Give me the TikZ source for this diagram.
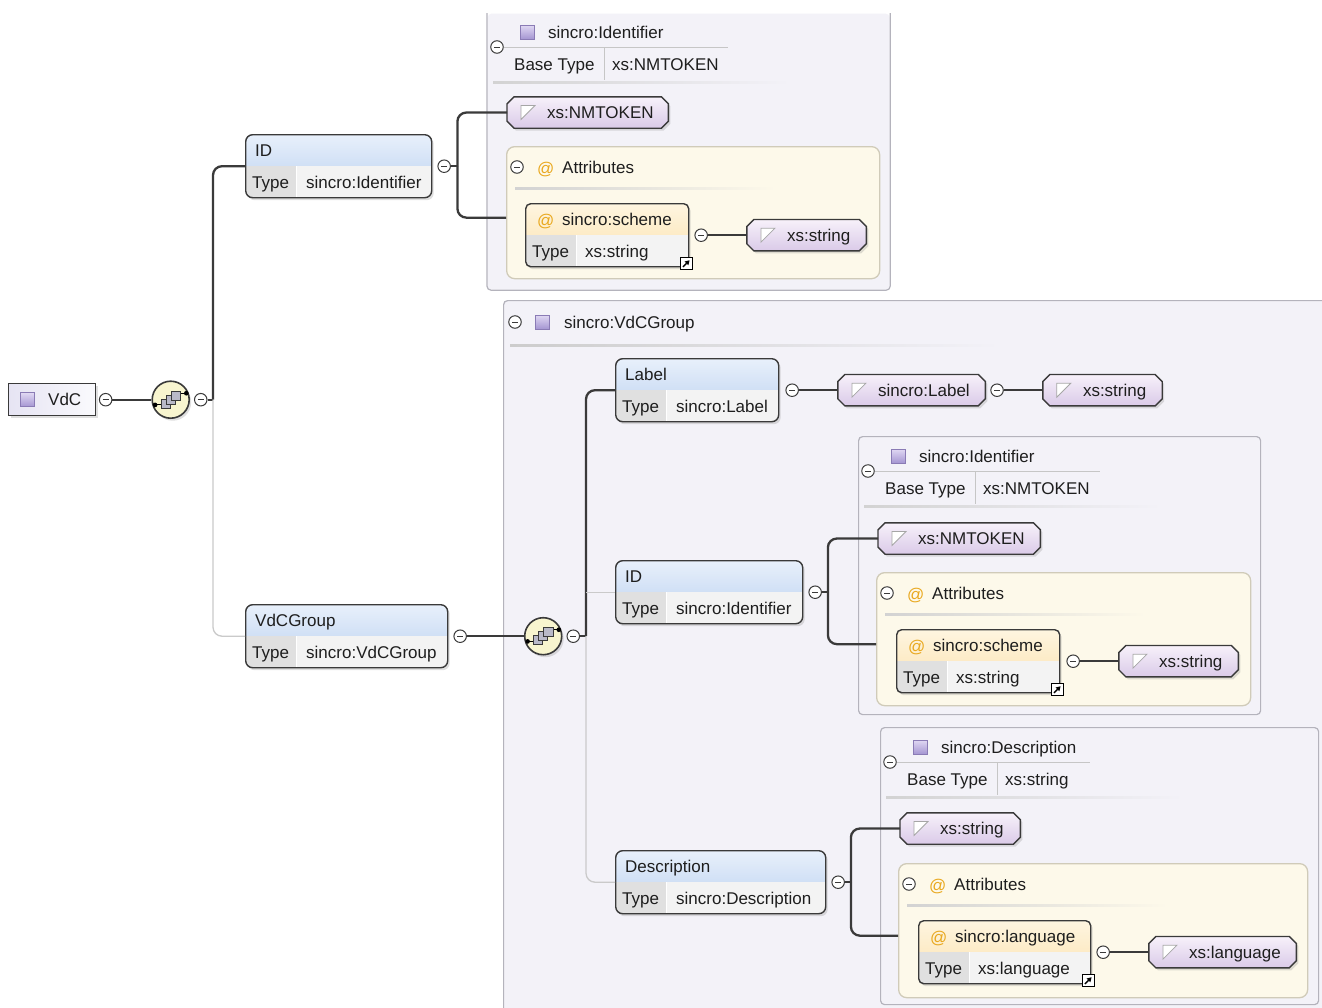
\documentclass[tikz,border=0pt]{standalone}
\usepackage{fontspec}
\setmainfont{Liberation Sans}
\usetikzlibrary{positioning,shadows,arrows.meta}

\definecolor{linedark}{HTML}{3A3A3A}
\definecolor{linelight}{HTML}{CACACA}
\definecolor{txtcol}{HTML}{1E1E1E}
\definecolor{panelfill}{HTML}{F3F2F8}
\definecolor{panelline}{HTML}{B4B3BC}
\definecolor{attrbg}{HTML}{FDF9EA}
\definecolor{attrline}{HTML}{D0CBB9}
\definecolor{elemtopA}{HTML}{E8F0FB}
\definecolor{elemtopB}{HTML}{B8CFEF}
\definecolor{attrtopA}{HTML}{FEF5E0}
\definecolor{attrtopB}{HTML}{FBE1AC}
\definecolor{cellgray}{HTML}{E0E0E0}
\definecolor{celllight}{HTML}{F3F3F3}
\definecolor{simpleA}{HTML}{F7F1FA}
\definecolor{simpleB}{HTML}{DACAE8}
\definecolor{seqfill}{HTML}{F8F5CF}
\definecolor{seqsq}{HTML}{B9B9C8}
\definecolor{rootA}{HTML}{E6E4F3}
\definecolor{rootB}{HTML}{FAFAFD}
\definecolor{iconA}{HTML}{E0D8F3}
\definecolor{iconB}{HTML}{A596D2}
\definecolor{iconline}{HTML}{8A7BB5}
\definecolor{atorange}{HTML}{E9A81E}

\tikzset{
         txt/.style = {inner sep=0pt, text height=13pt, text depth=1pt,
                       font=\fontsize{17}{20}\selectfont, text=txtcol},
        conn/.style = {draw=linedark, line width=2.3pt, rounded corners=9pt},
   connlight/.style = {draw=linelight, line width=1.3pt, rounded corners=9pt},
    headline/.style = {draw=gray!45, line width=1pt},
  softshadow/.style = {drop shadow={shadow xshift=2pt, shadow yshift=-2.5pt, opacity=.25}},
  card/.style 2 args = {draw=linedark, line width=1.4pt, inner sep=0pt,
                       minimum height=63pt, softshadow,
                       path picture={
                         \fill[sharp corners, top color=#1, bottom color=#2]
                           (path picture bounding box.north west) rectangle
                           (path picture bounding box.east);
                         \fill[sharp corners, cellgray] (path picture bounding box.west)
                           rectangle ([xshift=51pt]path picture bounding box.south west);
                         \fill[sharp corners, celllight]
                           ([xshift=51pt]path picture bounding box.south west)
                           rectangle (path picture bounding box.east);
                         \draw[sharp corners, white, line width=1.2pt]
                           ([xshift=51pt]path picture bounding box.west) --
                           ([xshift=51pt]path picture bounding box.south west);}},
        elem/.style = {card={elemtopA}{elemtopB}, rounded corners=7pt},   % <--- element
      attrib/.style = {card={attrtopA}{attrtopB}, rounded corners=5pt},   % <--- attribute
   simplebox/.style = {inner sep=0pt, minimum height=31pt},
 simpleshape/.style = {draw=linedark, line width=1.4pt,
                       top color=simpleA, bottom color=simpleB, softshadow},
        root/.style = {draw=linedark, line width=1.4pt, inner sep=0pt,
                       minimum width=87pt, minimum height=32pt,
                       left color=rootA, right color=rootB, softshadow},
         seq/.style = {circle, draw=linedark, line width=1.6pt, fill=seqfill,
                       minimum size=37pt, inner sep=0pt, softshadow},
       minus/.style = {circle, draw=linedark, line width=1pt, fill=white,
                       inner sep=0pt, minimum size=12.5pt,
                       path picture={\draw[line width=1pt]
                         ([xshift=-3pt]path picture bounding box.center) --
                         ([xshift=3pt]path picture bounding box.center);}},
      refbox/.style = {draw=black, fill=white, line width=.9pt, minimum size=12pt,
                       inner sep=0pt,
                       path picture={\draw[line width=1.5pt, -{Triangle[length=4.5pt, width=5pt]}]
                         ([shift={(-3.5pt,-3.5pt)}]path picture bounding box.center) --
                         ([shift={(3.2pt,3.2pt)}]path picture bounding box.center);}},
       panel/.style = {fill=panelfill, draw=panelline, line width=1.2pt,
                       rounded corners=4pt, inner sep=0pt},
    attrsbox/.style = {fill=attrbg, draw=attrline, line width=1.3pt,
                       rounded corners=8pt, inner sep=0pt},
}

% small icons
\newcommand\cticon[1]{\shadedraw[shift={#1}, top color=iconA, bottom color=iconB,
  draw=iconline, line width=.8pt] (-7,-7) rectangle (7,7);}
\newcommand\sticon[1]{\filldraw[shift={#1}, fill=white, draw=gray!70, line width=.8pt]
  (-7,-7) -- (7,-7) -- (-7,7) -- cycle;}
\newcommand\seqicon[1]{%
  \begin{scope}[shift={(#1.center)}, scale=1.3]
    \draw[line width=1.1pt] (-12,4) -- (-6,4) (6,-5) -- (12,-5);
    \fill (-12,4) circle (1.8pt) (12,-5) circle (1.8pt);
    \foreach \dx/\dy in {-4/3, 0/0, 4/-3}
      \filldraw[fill=seqsq, draw=linedark, line width=.9pt]
        (\dx-3.5,\dy-3.5) rectangle (\dx+3.5,\dy+3.5);
  \end{scope}}

% name, left, top, width, title, type
\newcommand\elembox[6]{%
  \node[elem, minimum width=#4, anchor=north west] (#1) at (#2,#3) {};
  \node[txt, anchor=west] (#1-nm) at ([xshift=10pt,yshift=-16pt]#1.north west) {#5};
  \node[txt, anchor=west] (#1-tl) at ([xshift=7pt,yshift=-48pt]#1.north west) {Type};
  \node[txt, anchor=west] (#1-ty) at ([xshift=61pt,yshift=-48pt]#1.north west) {#6};}
\newcommand\attrnode[6]{%
  \node[attrib, minimum width=#4, anchor=north west] (#1) at (#2,#3) {};
  \node[txt, text=atorange, anchor=west] (#1-at) at ([xshift=12pt,yshift=-17pt]#1.north west) {@};
  \node[txt, anchor=west] (#1-nm) at ([xshift=37pt,yshift=-16pt]#1.north west) {#5};
  \node[txt, anchor=west] (#1-tl) at ([xshift=7pt,yshift=-48pt]#1.north west) {Type};
  \node[txt, anchor=west] (#1-ty) at ([xshift=60pt,yshift=-48pt]#1.north west) {#6};
  \node[refbox] (#1-ref) at ([xshift=-3pt,yshift=4pt]#1.south east) {};}
% name, placement, width, text
\newcommand\stype[4]{%
  \node[simplebox, minimum width=#3, #2] (#1) {};
  \path[simpleshape] ([xshift=7pt]#1.north west) -- ([xshift=-7pt]#1.north east)
    -- ([yshift=-7pt]#1.north east) -- ([yshift=7pt]#1.south east)
    -- ([xshift=-7pt]#1.south east) -- ([xshift=7pt]#1.south west)
    -- ([yshift=7pt]#1.south west) -- ([yshift=-7pt]#1.north west) -- cycle;
  \sticon{([xshift=21pt]#1.west)}
  \node[txt, anchor=west] (#1-t) at ([xshift=40pt]#1.west) {#4};}
% name, left, top, type, base type, rule length
\newcommand\typehead[6]{%
  \node[minus] (#1-m) at (#2+10,#3+35) {};
  \cticon{(#2+40,#3+20)}
  \node[txt, anchor=west] (#1-t) at (#2+61,#3+20) {#4};
  \draw[headline] (#1-m) -- (#2+#6,#3+35);
  \node[txt, anchor=west] (#1-bl) at (#2+27,#3+52) {Base Type};
  \draw[headline] (#2+117,#3+36) -- (#2+117,#3+68);
  \node[txt, anchor=west] (#1-bv) at (#2+125,#3+52) {#5};
  \shade[left color=gray!35, right color=panelfill] (#2+6,#3+69.5) rectangle (#2+303,#3+71);}
% name, left, top, width, height
\newcommand\attrs[5]{%
  \node[attrsbox, minimum width=#4, minimum height=#5, anchor=north west] (#1) at (#2,#3) {};
  \node[minus] (#1-m) at (#2+11,#3+21) {};
  \node[txt, text=atorange, anchor=west] (#1-at) at (#2+31,#3+22) {@};
  \node[txt, anchor=west] (#1-t) at (#2+56,#3+21) {Attributes};
  \shade[left color=gray!35, right color=attrbg] (#2+9,#3+41.5) rectangle (#2+270,#3+43);}

\begin{document}
\begin{tikzpicture}[x=1pt, y=-1pt, node distance=5pt]
  \useasboundingbox (0,0) rectangle (1322,1007);
  \clip (0,0) rectangle (1322,1007);
  \fill[white] (0,0) rectangle (1322,1007);

  % panels
  \node[panel, draw=none, anchor=north west, minimum width=402pt, minimum height=276pt] (P1) at (487,13) {};
  \draw[panel, fill=none] (P1.north west) -- (P1.south west) -- (P1.south east) -- (P1.north east);
  \node[panel, anchor=north west, minimum width=840pt, minimum height=720pt] (P2) at (503,300) {};
  \node[panel, anchor=north west, minimum width=402pt, minimum height=278pt] (P3) at (858,436) {};
  \node[panel, anchor=north west, minimum width=438pt, minimum height=277pt] (P4) at (880,727) {};

  \typehead{H1}{487}{12}{sincro:Identifier}{xs:NMTOKEN}{241}
  \typehead{H3}{858}{436}{sincro:Identifier}{xs:NMTOKEN}{242}
  \typehead{H4}{880}{727}{sincro:Description}{xs:string}{210}

  \node[minus] (P2-m) at (515,322) {};
  \cticon{(542,322)}
  \node[txt, anchor=west] (P2-t) at (564,322) {sincro:VdCGroup};
  \shade[left color=gray!40, right color=panelfill] (510,344.5) rectangle (1000,346);

  \attrs{A1}{506}{146}{373}{132}
  \attrs{A2}{876}{572}{374}{133}
  \attrs{A3}{898}{863}{409}{134}

  % root
  \node[root, anchor=north west] (VdC) at (8,383) {};
  \cticon{([xshift=19pt]VdC.west)}
  \node[txt, anchor=west] (VdC-t) at ([xshift=40pt]VdC.west) {VdC};
  \node[minus, right=2.5pt of VdC] (m0) {};
  \node[seq, right=39pt of m0] (seq1) {};
  \seqicon{seq1}
  \node[minus, right=4pt of seq1] (m1) {};

  % ID
  \elembox{ID1}{245}{134}{186}{ID}{sincro:Identifier}
  \node[minus, right=of ID1] (m2) {};
  \stype{NM1}{anchor=west, at={(507,112.5)}}{161}{xs:NMTOKEN}
  \attrnode{SC1}{525}{203}{163}{sincro:scheme}{xs:string}
  \node[minus, right=of SC1] (m11) {};
  \stype{XS1}{right=39pt of m11}{119}{xs:string}

  % VdCGroup
  \elembox{VG}{245}{604}{202}{VdCGroup}{sincro:VdCGroup}
  \node[minus, right=of VG] (m3) {};
  \node[seq, right=57pt of m3] (seq2) {};
  \seqicon{seq2}
  \node[minus, right=4pt of seq2] (m4) {};

  \elembox{LB}{615}{358}{163}{Label}{sincro:Label}
  \node[minus, right=6pt of LB] (m5) {};
  \stype{SL}{right=39pt of m5}{147}{sincro:Label}
  \node[minus, right=of SL] (m6) {};
  \stype{XS2}{right=39pt of m6}{119}{xs:string}

  \elembox{ID2}{615}{560}{187}{ID}{sincro:Identifier}
  \node[minus, right=of ID2] (m7) {};
  \stype{NM2}{anchor=west, at={(878,538.5)}}{162}{xs:NMTOKEN}
  \attrnode{SC2}{896}{629}{163}{sincro:scheme}{xs:string}
  \node[minus, right=6pt of SC2] (m8) {};
  \stype{XS3}{right=39pt of m8}{119}{xs:string}

  \elembox{DS}{615}{850}{210}{Description}{sincro:Description}
  \node[minus, right=of DS] (m9) {};
  \stype{XS4}{anchor=west, at={(900,828.5)}}{120}{xs:string}
  \attrnode{LG}{918}{920}{172}{sincro:language}{xs:language}
  \node[minus, right=of LG] (m10) {};
  \stype{XL}{right=39pt of m10}{147}{xs:language}

  % connectors
  \coordinate[right=5.5pt of m1] (j1);
  \coordinate[right=6.5pt of m2] (j2);
  \coordinate[right=6pt of m4] (j4);
  \coordinate[right=6pt of m7] (j7);
  \coordinate[right=6pt of m9] (j9);

  \draw[conn] (m0) -- (seq1);
  \draw[conn] (m1) -- (j1);
  \draw[conn] (j1) |- (ID1);
  \draw[connlight] (j1) |- (VG);

  \draw[conn] (m2) -- (j2);
  \draw[conn] (j2) |- (NM1);
  \draw[conn] (j2) |- ([yshift=-5pt]A1.west);
  \draw[conn] (m11) -- (XS1);

  \draw[conn] (m3) -- (seq2);
  \draw[conn] (m4) -- (j4);
  \draw[conn] (j4) |- (LB);
  \draw[connlight] (j4) |- (DS);
  \draw[connlight] (j4 |- ID2.west) -- (ID2);
  \draw[conn] (m5) -- (SL);
  \draw[conn] (m6) -- (XS2);

  \draw[conn] (m7) -- (j7);
  \draw[conn] (j7) |- (NM2);
  \draw[conn] (j7) |- ([yshift=-5pt]A2.west);
  \draw[conn] (m8) -- (XS3);

  \draw[conn] (m9) -- (j9);
  \draw[conn] (j9) |- (XS4);
  \draw[conn] (j9) |- ([yshift=-5pt]A3.west);
  \draw[conn] (m10) -- (XL);
\end{tikzpicture}
\end{document}
